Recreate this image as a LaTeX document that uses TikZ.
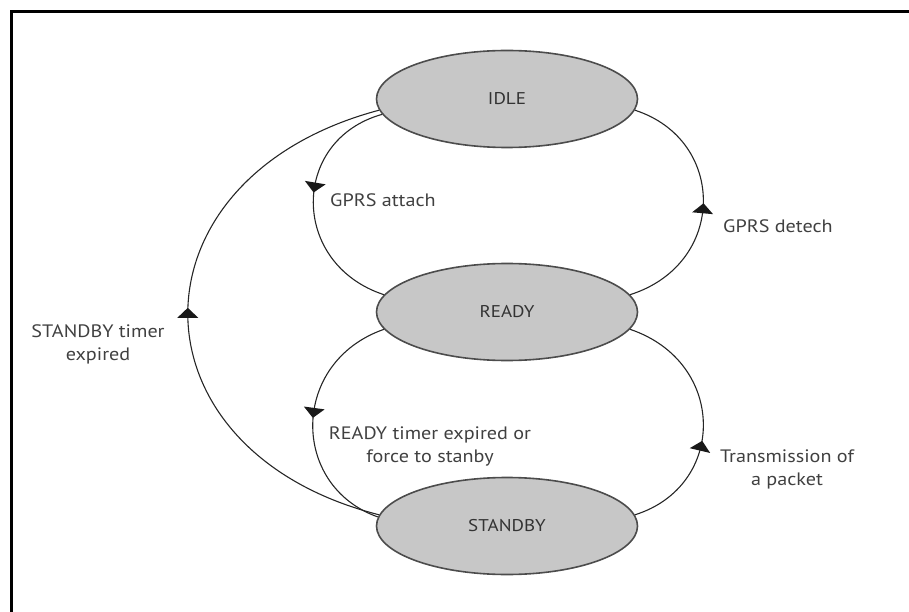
\documentclass[tikz,border=0pt]{standalone}
\usepackage{fontspec}
\setmainfont{PT Sans}[FakeStretch=1.12]
\usetikzlibrary{shapes.geometric}
\begin{document}
\begin{tikzpicture}[x=1pt,y=-1pt,
  state/.style={ellipse,draw=black!70,line width=1.6pt,fill=black!22,minimum width=261pt,minimum height=97pt,inner sep=0pt,text=black!80,font=\fontsize{17}{20}\selectfont},
  lbl/.style={align=center,text=black!75,font=\fontsize{18}{23}\selectfont,inner sep=0pt},
  edge/.style={draw=black!85,line width=1.1pt},
  tri/.style={isosceles triangle,isosceles triangle stretches,minimum width=21pt,minimum height=10pt,inner sep=0pt,fill=black!90,draw=none,sloped,allow upside down,anchor=center}
]
\path[use as bounding box] (0,0) rectangle (909,612);
\draw[line width=3pt] (11,612) -- (11,12) -- (909,12);

\node[state] (idle) at (507,99) {IDLE};
\node[state] (ready) at (507,312) {READY};
\node[state] (standby) at (507,526) {STANDBY};

\draw[edge] (idle.187) .. controls (290,140) and (290,264) .. (ready.172) node[tri,pos=0.43] (a1) {};
\draw[edge] (ready.8) .. controls (727,264) and (727,140) .. (idle.355) node[tri,pos=0.47] (a2) {};
\draw[edge] (standby.175) .. controls (124,450) and (124,178) .. (idle.185) node[tri,pos=0.5] (a3) {};
\draw[edge] (ready.188) .. controls (290,362) and (290,486) .. (standby.176) node[tri,pos=0.45] (a4) {};
\draw[edge] (standby.5) .. controls (727,486) and (727,362) .. (ready.352) node[tri,pos=0.4] (a5) {};

\node[lbl,anchor=west] (la) at (330,200) {GPRS attach};
\node[lbl,anchor=west] (ld) at (723,226) {GPRS detech};
\node[lbl] (ls) at (98,344) {STANDBY timer\\expired};
\node[lbl] (lr) at (430,446) {READY timer expired or\\force to stanby};
\node[lbl] (lt) at (787,469) {Transmission of\\a packet};
\end{tikzpicture}
\end{document}
